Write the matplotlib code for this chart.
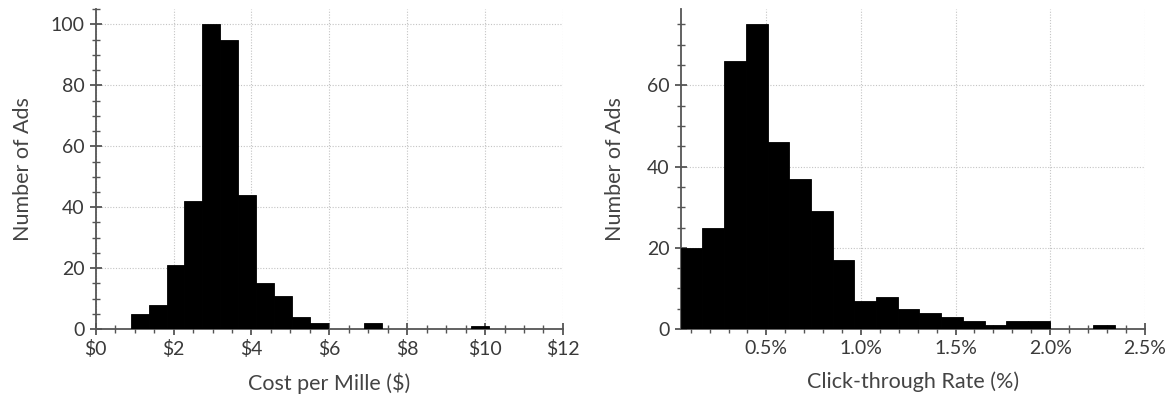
import numpy as np
import matplotlib.pyplot as plt
from matplotlib.ticker import MultipleLocator, FuncFormatter

# Histogram data (20 bins per panel)
cpm_range = (0.90, 10.10)
cpm_counts = [5, 8, 21, 42, 100, 95, 44, 15, 11, 4, 2, 0, 0, 2, 0, 0, 0, 0, 0, 1]

ctr_range = (0.047, 2.342)
ctr_counts = [20, 25, 66, 75, 46, 37, 29, 17, 7, 8, 5, 4, 3, 2, 1, 2, 2, 0, 0, 1]

cpm_ticks = [0, 2, 4, 6, 8, 10, 12]
ctr_ticks = [0.5, 1.0, 1.5, 2.0, 2.5]

plt.rcParams["font.family"] = ["Lato", "DejaVu Sans"]

fig = plt.figure(figsize=(11.76, 4.03), dpi=100)
ax1 = fig.add_axes([0.0814, 0.1836, 0.3973, 0.7934])
ax2 = fig.add_axes([0.5788, 0.1836, 0.3946, 0.7934])


def draw_hist(ax, rng, counts):
    edges = np.linspace(rng[0], rng[1], len(counts) + 1)
    ax.bar(edges[:-1], counts, width=np.diff(edges), align="edge",
           color="black", edgecolor="black", linewidth=0.6, zorder=3)


def style(ax, ylabel, xlabel, ypad):
    for s in ["top", "right"]:
        ax.spines[s].set_visible(False)
    for s in ["left", "bottom"]:
        ax.spines[s].set_color("#555555")
        ax.spines[s].set_linewidth(1.3)
    ax.grid(True, which="major", linestyle=(0, (1, 1.5)), color="#c4c4c4",
            linewidth=0.8, zorder=0)
    ax.tick_params(which="major", direction="inout", length=9, width=1.3,
                   color="#555555", labelsize=14, labelcolor="#3a3a3a")
    ax.tick_params(which="minor", direction="inout", length=6, width=1.0,
                   color="#555555")
    ax.set_ylabel(ylabel, fontsize=15.5, color="#444444", labelpad=ypad)
    ax.set_xlabel(xlabel, fontsize=15.5, color="#444444", labelpad=10)


draw_hist(ax1, cpm_range, cpm_counts)
ax1.set_xlim(cpm_ticks[0], cpm_ticks[-1])
ax1.set_ylim(0, max(cpm_counts) * 1.05)
ax1.set_xticks(cpm_ticks)
ax1.xaxis.set_major_formatter(FuncFormatter(lambda v, p: f"${v:.0f}"))
ax1.xaxis.set_minor_locator(MultipleLocator(0.5))
ax1.yaxis.set_major_locator(MultipleLocator(20))
ax1.yaxis.set_minor_locator(MultipleLocator(5))
style(ax1, "Number of Ads", "Cost per Mille ($)", 13)

draw_hist(ax2, ctr_range, ctr_counts)
ax2.set_xlim(ctr_range[0], ctr_ticks[-1])
ax2.set_ylim(0, max(ctr_counts) * 1.05)
ax2.set_xticks(ctr_ticks)
ax2.xaxis.set_major_formatter(FuncFormatter(lambda v, p: f"{v:.1f}%"))
ax2.xaxis.set_minor_locator(MultipleLocator(0.1))
ax2.yaxis.set_major_locator(MultipleLocator(20))
ax2.yaxis.set_minor_locator(MultipleLocator(5))
style(ax2, "Number of Ads", "Click-through Rate (%)", 16)

fig.savefig("out.png", dpi=100)
